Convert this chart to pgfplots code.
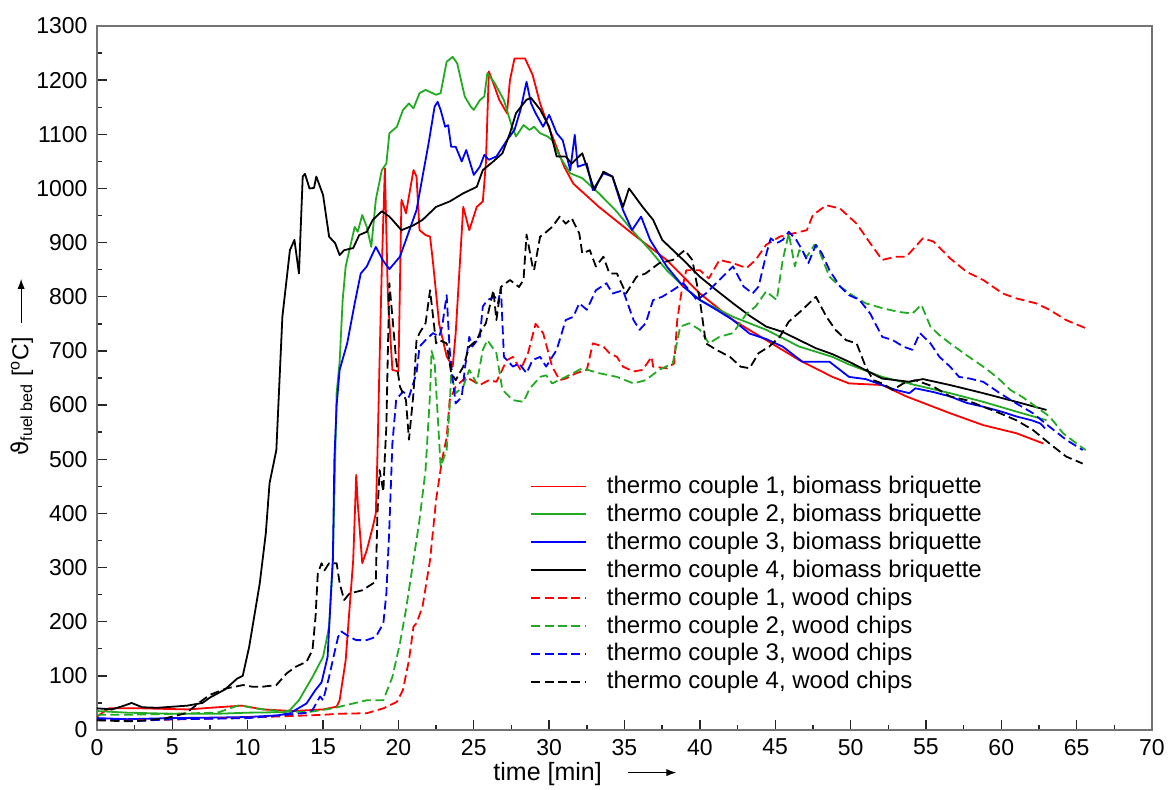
\documentclass[border=0pt]{standalone}
\usepackage{pgfplots}
\pgfplotsset{compat=1.18}
\usetikzlibrary{arrows.meta}
\usepackage{fontspec}
\setmainfont{Liberation Sans}
\newfontfamily\dejavu{DejaVu Sans}
\definecolor{cred}{RGB}{255,0,0}
\definecolor{cgreen}{RGB}{35,170,35}
\definecolor{cblue}{RGB}{0,0,255}
\begin{document}
\begin{tikzpicture}
\path[use as bounding box] (-48.5pt,-29.5pt) rectangle (536pt,365pt);
\begin{axis}[
  scale only axis, width=527.5pt, height=352pt,
  xmin=0, xmax=70, ymin=0, ymax=1300,
  xtick={0,5,...,70}, ytick={0,100,...,1300},
  minor x tick num=1, minor y tick num=1,
  tick pos=left, tick align=inside,
  major tick length=5pt, minor tick length=2.5pt,
  every tick/.style={black!85, line width=0.7pt},
  axis line style={black!55, line width=1pt},
  /pgf/number format/assume math mode=true,
  /pgf/number format/1000 sep={},
  ticklabel style={font=\fontsize{11.5}{13}\selectfont},
  yticklabel style={xshift=-1.2pt},
  xticklabel style={yshift=-1pt},
  xlabel={time [min]\hspace{13pt}\tikz[baseline=-0.6ex]\draw[-{Latex[length=5pt,width=3.6pt]}, line width=0.5pt] (0,0)--(24pt,0);},
  xlabel style={at={(axis description cs:0.3754,0)}, anchor=north west, yshift=-16pt, inner sep=0pt, font=\fontsize{12.5}{15}\selectfont},
  ylabel={{\dejavu ϑ}\textsubscript{fuel bed} [\textsuperscript{o}C]\hspace{7pt}\tikz[baseline=-0.6ex]\draw[-{Latex[length=5pt,width=3.6pt]}, line width=0.5pt] (0,0)--(22pt,0);},
  ylabel style={at={(axis description cs:-0.0711,0.5156)}, anchor=center, inner sep=0pt, font=\fontsize{11.5}{13}\selectfont},
  legend cell align=left,
  legend image code/.code={\draw[#1] (0pt,0pt) -- (27.5pt,0pt);},
  legend style={draw=none, fill=none, at={(0.4104,0.365)}, anchor=north west, inner sep=0pt,
    font=\fontsize{12}{14}\selectfont, nodes={inner sep=1.4pt}, row sep=0.95pt,
    /tikz/every odd column/.append style={column sep=8.5pt}},
  every axis plot/.append style={line width=0.9pt, line join=round},
  mydash/.style={dash pattern=on 4.5pt off 2.2pt},
]
% thermo couple 1, biomass briquette
\addplot[cred] coordinates {(0,25) (0.8,40) (3,40) (6,38) (8,42) (9.6,45) (11,38) (13,35) (15,38) (15.9,43) (16.1,55) (16.5,129) (16.75,222) (17.0,314) (17.2,471) (17.3,419) (17.6,308) (17.9,332) (18.3,375) (18.5,400) (18.6,499) (18.75,683) (18.9,856) (19.1,1037) (19.3,800) (19.6,665) (20.0,662) (20.2,979) (20.3,972) (20.5,954) (21.0,1034) (21.2,1022) (21.4,923) (21.8,914) (22.1,911) (22.3,862) (22.7,750) (23.2,690) (23.6,671) (23.8,733) (24.3,966) (24.7,923) (25.2,966) (25.6,976) (25.8,1046) (26.0,1216) (26.3,1194) (26.7,1163) (27.2,1139) (27.4,1200) (27.7,1240) (28.4,1240) (28.9,1210) (29.4,1157) (29.8,1126) (30.4,1083) (31.0,1040) (31.6,1009) (33.3,966) (35.5,917) (37.8,868) (40.0,806) (42.2,757) (44.4,720) (46.6,683) (48.8,652) (49.9,640) (52.1,637) (53.7,616) (56.6,585) (58.8,563) (61.0,548) (62.8,529)};
\addlegendentry{thermo couple 1, biomass briquette}
% thermo couple 2, biomass briquette
\addplot[cgreen] coordinates {(0,35) (2,32) (5,30) (8,30) (10,32) (12.5,33) (12.8,37) (13.4,55) (14.3,98) (15.0,135) (15.4,191) (15.65,314) (15.8,499) (15.9,622) (16.1,680) (16.3,794) (16.5,856) (17.1,929) (17.3,920) (17.6,951) (17.9,929) (18.2,892) (18.5,979) (18.9,1034) (19.2,1046) (19.4,1102) (19.9,1114) (20.3,1145) (20.7,1157) (21.0,1148) (21.4,1176) (21.8,1182) (22.5,1173) (22.8,1176) (23.2,1234) (23.6,1243) (23.9,1231) (24.4,1170) (24.8,1151) (25.0,1145) (25.4,1163) (25.7,1170) (25.9,1213) (26.4,1194) (27.0,1163) (27.5,1117) (27.8,1096) (28.3,1117) (28.7,1108) (29.0,1114) (29.4,1102) (29.9,1096) (30.2,1089) (30.7,1059) (31.4,1028) (32.2,1019) (33.3,991) (34.4,960) (35.5,923) (36.7,886) (37.8,849) (38.9,819) (40.0,794) (42.2,763) (44.4,739) (46.6,708) (48.8,689) (49.9,675) (52.1,652) (54.3,637) (56.6,622) (58.8,606) (61.0,588) (63.0,572)};
\addlegendentry{thermo couple 2, biomass briquette}
% thermo couple 3, biomass briquette
\addplot[cblue] coordinates {(0,22) (2,20) (5,22) (8,23) (10,24) (12,27) (12.8,31) (13.9,49) (14.5,74) (14.9,88) (15.3,135) (15.5,240) (15.65,314) (15.75,499) (15.9,600) (16.1,665) (16.6,714) (17.1,788) (17.5,843) (17.9,856) (18.2,874) (18.5,892) (19.0,866) (19.4,851) (20.1,874) (20.5,905) (21.2,960) (21.6,1022) (22.0,1083) (22.4,1151) (22.6,1160) (22.8,1145) (23.1,1114) (23.3,1117) (23.5,1077) (23.8,1077) (24.2,1050) (24.5,1071) (25.0,1025) (25.4,1040) (25.7,1062) (26.0,1053) (26.5,1059) (27.2,1089) (27.7,1108) (28.1,1145) (28.5,1197) (28.8,1157) (29.1,1139) (29.6,1114) (30.0,1136) (30.5,1102) (30.9,1089) (31.4,1034) (31.7,1099) (31.9,1040) (32.5,1046) (32.9,997) (33.6,1028) (34.2,1022) (34.9,960) (35.5,923) (36.1,948) (36.7,905) (37.8,856) (38.9,819) (40.0,794) (41.1,776) (42.2,757) (43.3,732) (44.4,722) (45.5,708) (46.8,680) (48.6,680) (49.9,652) (51.0,648) (52.1,637) (53.0,628) (53.9,622) (54.3,631) (55.5,624) (56.6,616) (57.7,604) (58.8,597) (60.0,588) (61.0,579) (62.0,572) (62.6,566) (62.9,557)};
\addlegendentry{thermo couple 3, biomass briquette}
% thermo couple 4, biomass briquette
\addplot[black] coordinates {(0,40) (1,38) (1.8,45) (2.3,50) (3,42) (4,41) (5,43) (6,45) (7,50) (7.5,60) (8.5,75) (9.3,95) (9.67,100) (10.1,154) (10.8,271) (11.2,363) (11.45,456) (11.9,517) (12.3,763) (12.8,886) (13.1,905) (13.4,843) (13.65,1022) (13.8,1027) (14.1,1000) (14.4,1001) (14.55,1022) (15.0,988) (15.4,911) (15.8,899) (16.1,877) (16.4,886) (17.0,890) (17.4,914) (17.9,920) (18.3,942) (18.9,958) (19.4,948) (19.6,942) (20.2,923) (21.0,932) (21.6,942) (22.5,966) (23.4,976) (24.3,991) (25.2,1003) (25.6,1034) (26.3,1050) (26.9,1065) (27.4,1102) (27.8,1139) (28.5,1164) (28.8,1167) (29.4,1146) (30.0,1114) (30.5,1059) (31.1,1059) (31.5,1046) (32.2,1065) (33.0,997) (33.6,1031) (34.2,1022) (34.9,966) (35.3,1000) (36.2,966) (36.9,942) (37.5,905) (38.9,868) (40.0,837) (41.1,812) (42.2,788) (43.3,765) (44.4,745) (45.5,735) (46.6,720) (47.7,705) (48.8,694) (49.9,680) (52.1,649) (53.9,643) (54.8,648) (56.6,637) (58.8,622) (61.0,606) (63.0,591)};
\addlegendentry{thermo couple 4, biomass briquette}
% thermo couple 1, wood chips
\addplot[cred, mydash] coordinates {(0,18) (3,18) (6,20) (10,23) (13,26) (15,28) (16,30) (17.9,31) (19.0,40) (19.9,52) (20.3,74) (20.7,129) (21.0,191) (21.2,197) (21.6,228) (22.1,314) (22.5,425) (22.9,500) (23.2,540) (23.4,609) (23.8,634) (24.5,652) (25.4,637) (26.0,646) (26.5,643) (27.2,683) (27.6,689) (28.1,665) (28.6,696) (29.1,750) (29.6,733) (30.2,671) (30.7,646) (31.1,649) (31.8,659) (32.5,665) (32.9,714) (33.6,708) (34.0,696) (34.5,689) (34.9,671) (35.6,662) (36.2,665) (36.8,689) (36.9,671) (37.8,668) (38.3,677) (38.5,757) (38.8,812) (39.1,849) (40.0,849) (40.6,834) (41.3,868) (42.2,862) (43.1,853) (43.7,868) (44.4,896) (45.3,911) (46.2,917) (47.1,923) (47.5,951) (48.4,969) (49.3,963) (50.4,935) (51.3,899) (52.1,868) (53.0,874) (53.7,874) (54.8,908) (55.5,902) (56.6,871) (57.7,846) (58.8,831) (60.1,806) (61.0,797) (62.3,788) (63.2,776) (64.3,757) (65.6,742)};
\addlegendentry{thermo couple 1, wood chips}
% thermo couple 2, wood chips
\addplot[cgreen, mydash] coordinates {(0,28) (2,28) (5,30) (8,32) (9.45,46) (10.5,40) (12,35) (14,33) (15.65,40) (17.9,55) (19.0,55) (19.6,98) (20.1,160) (20.5,222) (21.0,314) (21.4,388) (21.8,480) (22.1,622) (22.2,700) (22.4,680) (22.8,486) (23.2,517) (23.4,597) (23.5,659) (23.8,622) (24.3,634) (24.7,665) (25.2,640) (25.6,702) (25.9,720) (26.5,696) (26.9,628) (27.6,609) (28.3,606) (28.7,630) (29.4,652) (29.8,655) (30.2,640) (31.1,652) (32.2,668) (33.3,659) (34.5,652) (35.6,640) (36.4,646) (37.3,665) (38.2,677) (38.7,745) (39.3,751) (40.0,739) (40.6,714) (41.3,726) (42.2,733) (43.1,769) (43.7,782) (44.4,810) (45.1,794) (45.5,868) (45.9,917) (46.3,856) (46.6,886) (47.1,874) (47.6,896) (47.9,886) (48.6,837) (49.3,819) (50.1,803) (51.0,788) (52.1,779) (53.2,772) (54.1,769) (54.7,785) (55.3,745) (55.9,729) (56.6,714) (57.7,692) (58.8,671) (59.7,652) (60.6,628) (61.4,615) (62.3,597) (63.2,579) (64.1,548) (65.0,529) (65.6,517)};
\addlegendentry{thermo couple 2, wood chips}
% thermo couple 3, wood chips
\addplot[cblue, mydash] coordinates {(0,20) (2,18) (3,17) (5,20) (8,21) (10,22) (12.5,28) (14,32) (14.3,37) (14.8,62) (15.0,55) (15.4,98) (15.75,142) (16.0,172) (16.2,182) (16.75,172) (17.2,166) (17.9,166) (18.5,172) (19.0,197) (19.2,252) (19.4,375) (19.6,529) (19.85,610) (20.3,625) (20.7,615) (21.2,659) (21.4,708) (21.8,720) (22.3,733) (22.7,726) (22.9,745) (23.2,803) (23.4,702) (23.6,646) (23.8,603) (24.2,615) (24.4,665) (24.7,726) (24.9,708) (25.4,726) (25.6,782) (25.9,794) (26.4,800) (26.6,788) (26.8,816) (27.0,689) (27.6,671) (28.0,677) (28.5,659) (28.9,683) (29.4,689) (29.8,671) (30.5,702) (31.1,757) (31.6,763) (32.0,788) (32.5,776) (33.1,812) (33.8,825) (34.2,806) (34.9,812) (35.6,757) (36.0,739) (36.4,751) (36.9,794) (37.5,800) (38.2,812) (38.9,825) (39.3,812) (39.8,794) (40.4,806) (41.3,831) (42.2,856) (42.9,819) (43.5,806) (43.9,819) (44.4,878) (44.7,908) (45.1,899) (45.5,905) (45.9,920) (46.4,905) (46.8,886) (47.2,862) (47.7,896) (48.1,880) (48.6,849) (49.3,819) (49.9,803) (50.6,794) (51.3,769) (52.1,726) (52.8,720) (53.5,708) (54.1,702) (54.6,733) (55.3,714) (55.9,689) (56.6,671) (57.2,652) (57.9,649) (58.8,643) (59.9,622) (61.0,603) (62.1,585) (63.2,560) (64.3,536) (65.4,517)};
\addlegendentry{thermo couple 3, wood chips}
% thermo couple 4, wood chips
\addplot[black, mydash] coordinates {(0,18) (1,17) (2.5,16) (4,20) (4.6,22) (5.9,31) (7.0,55) (7.5,65) (8.6,77) (9.7,83) (10.3,80) (11.0,80) (11.9,83) (12.6,105) (13.2,117) (13.9,126) (14.3,148) (14.5,209) (14.65,289) (14.9,308) (15.1,295) (15.4,308) (15.9,308) (16.1,271) (16.4,240) (16.75,252) (17.6,258) (18.5,274) (18.6,394) (18.75,480) (19.0,440) (19.1,505) (19.2,560) (19.3,700) (19.4,825) (19.6,763) (19.85,683) (20.1,634) (20.3,622) (20.5,609) (20.7,536) (21.0,622) (21.2,720) (21.4,733) (21.8,751) (22.1,812) (22.3,763) (22.5,714) (22.7,720) (23.2,714) (23.5,659) (23.8,646) (24.3,671) (24.7,708) (25.2,720) (25.4,733) (25.8,751) (26.3,812) (26.5,757) (26.8,818) (27.4,831) (28.0,818) (28.3,831) (28.5,915) (28.9,856) (29.0,849) (29.4,911) (29.7,917) (30.2,929) (30.7,948) (31.1,935) (31.5,945) (32.0,917) (32.2,880) (32.7,886) (33.1,856) (33.6,874) (34.0,843) (34.5,843) (35.1,806) (35.8,837) (36.4,843) (37.3,862) (38.2,868) (39.0,886) (39.5,868) (40.0,794) (40.4,714) (41.1,702) (42.0,689) (42.7,671) (43.3,668) (43.9,696) (44.6,708) (45.3,726) (45.9,754) (46.8,776) (47.7,800) (48.4,763) (49.0,739) (49.7,720) (50.4,714) (51.0,671) (51.5,646) (52.1,640) (52.8,628) (53.5,640) (54.3,646) (55.5,634) (56.6,616) (57.7,609) (58.8,597) (59.9,585) (61.0,572) (62.1,554) (63.2,529) (64.3,505) (65.4,492)};
\addlegendentry{thermo couple 4, wood chips}
\end{axis}
\end{tikzpicture}
\end{document}
